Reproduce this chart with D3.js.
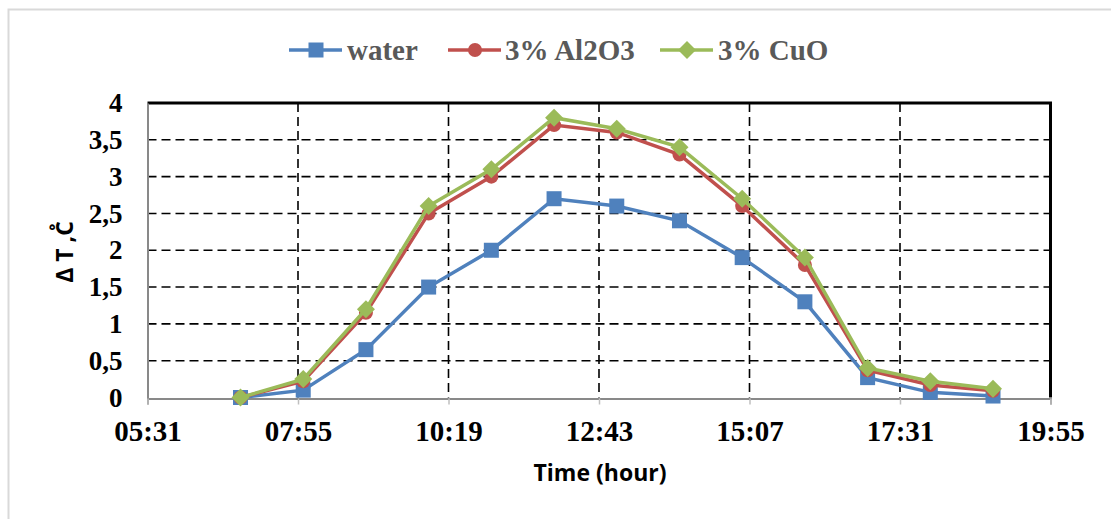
<!DOCTYPE html>
<html><head><meta charset="utf-8">
<script src="https://cdn.jsdelivr.net/npm/d3@7"></script>
<style>body{margin:0;background:#fff}svg{display:block}</style>
</head><body>
<script>
const times = ["07:00","08:00","09:00","10:00","11:00","12:00","13:00","14:00","15:00","16:00","17:00","18:00","19:00"];
const water = [0,0.1,0.65,1.5,2.0,2.7,2.6,2.4,1.9,1.3,0.27,0.07,0.02];
const al2o3 = [0,0.22,1.15,2.5,3.0,3.7,3.6,3.3,2.6,1.8,0.37,0.17,0.09];
const cuo = [0,0.25,1.2,2.6,3.1,3.8,3.65,3.4,2.7,1.9,0.4,0.22,0.12];
const xTickLabels = ["05:31","07:55","10:19","12:43","15:07","17:31","19:55"];
const yTicks = [0,0.5,1,1.5,2,2.5,3,3.5,4];
const seriesNames = ["water","3% Al2O3","3% CuO"];
const colors = ["#4F81BD","#C0504D","#9BBB59"];

const W=1111,H=519;
const toMin = s => {const [h,m]=s.split(":").map(Number);return h*60+m;};
const svg=d3.select("body").append("svg").attr("width",W).attr("height",H);
svg.append("rect").attr("x",8.5).attr("y",9.5).attr("width",W+10).attr("height",H+10)
  .attr("fill","none").attr("stroke","#d9d9d9").attr("stroke-width",2);

const L=147.5,R=1050.5,T=103,B=397.5;
const x=d3.scaleLinear().domain([toMin("05:31"),toMin("19:55")]).range([L,R]);
const y=d3.scaleLinear().domain([0,4]).range([B,T]);

// grid
const g=svg.append("g");
xTickLabels.slice(1,-1).forEach(t=>{
  g.append("line").attr("x1",x(toMin(t))).attr("x2",x(toMin(t))).attr("y1",T).attr("y2",B)
   .attr("stroke","#000").attr("stroke-width",1.6).attr("stroke-dasharray","9,5");
});
yTicks.slice(1,-1).forEach(v=>{
  g.append("line").attr("x1",L).attr("x2",R).attr("y1",y(v)).attr("y2",y(v))
   .attr("stroke","#000").attr("stroke-width",1.6).attr("stroke-dasharray","9,5");
});
// top/right thick border
svg.append("path").attr("d",`M${L},${T}H${R}V${B}`).attr("fill","none").attr("stroke","#000").attr("stroke-width",3);

// axes
const xAxis=svg.append("g").attr("transform",`translate(0,${B+1})`)
  .call(d3.axisBottom(x).tickValues(xTickLabels.map(toMin)).tickFormat((d,i)=>xTickLabels[i]).tickSize(6).tickPadding(16));
xAxis.select(".domain").attr("stroke","#898989").attr("stroke-width",2);
xAxis.selectAll(".tick line").attr("stroke","#bfbfbf").attr("stroke-width",1.5);
xAxis.selectAll("text").attr("font-family","Liberation Serif").attr("font-weight","bold").attr("font-size",29).attr("fill","#000");

const yAxis=svg.append("g").attr("transform",`translate(${L},0)`)
  .call(d3.axisLeft(y).tickValues(yTicks).tickFormat(d=>String(d).replace(".",",")).tickSize(0).tickPadding(25));
yAxis.select(".domain").attr("stroke","#898989").attr("stroke-width",2);
yAxis.selectAll("text").attr("font-family","Liberation Serif").attr("font-weight","bold").attr("font-size",27).attr("fill","#000");

// series
const all=[water,al2o3,cuo];
const line=d3.line().x((d,i)=>x(toMin(times[i]))).y(d=>y(d));
function marker(sel,k,cx,cy){
  if(k===0) sel.append("rect").attr("x",cx-7.5).attr("y",cy-7.5).attr("width",15).attr("height",15).attr("fill",colors[0]);
  else if(k===1) sel.append("circle").attr("cx",cx).attr("cy",cy).attr("r",7).attr("fill",colors[1]);
  else sel.append("path").attr("d",`M${cx},${cy-9}L${cx+9},${cy}L${cx},${cy+9}L${cx-9},${cy}Z`).attr("fill",colors[2]);
}
all.forEach((s,k)=>{
  const gs=svg.append("g");
  gs.append("path").attr("d",line(s)).attr("fill","none").attr("stroke",colors[k]).attr("stroke-width",3.5);
  s.forEach((v,i)=>marker(gs,k,x(toMin(times[i])),y(v)));
});

// legend
const legX=[289,448,660], legTX=[347,505,718];
seriesNames.forEach((n,k)=>{
  const lg=svg.append("g");
  lg.append("line").attr("x1",legX[k]).attr("x2",legX[k]+53).attr("y1",50).attr("y2",50).attr("stroke",colors[k]).attr("stroke-width",3.5);
  marker(lg,k,legX[k]+27,50);
  lg.append("text").attr("x",legTX[k]).attr("y",60).text(n).attr("font-family","Liberation Serif").attr("font-weight","bold").attr("font-size",29).attr("fill","#595959");
});

// titles
svg.append("text").attr("x",600).attr("y",481).attr("text-anchor","middle").text("Time (hour)")
  .attr("font-family","Open Sans").attr("font-weight","bold").attr("font-size",23).attr("fill","#000");
svg.append("text").attr("transform","translate(73,252) rotate(-90)").attr("text-anchor","middle").text("Δ T ,C̊")
  .attr("font-family","Open Sans").attr("font-weight","bold").attr("font-size",23).attr("fill","#000");
</script>
</body></html>
